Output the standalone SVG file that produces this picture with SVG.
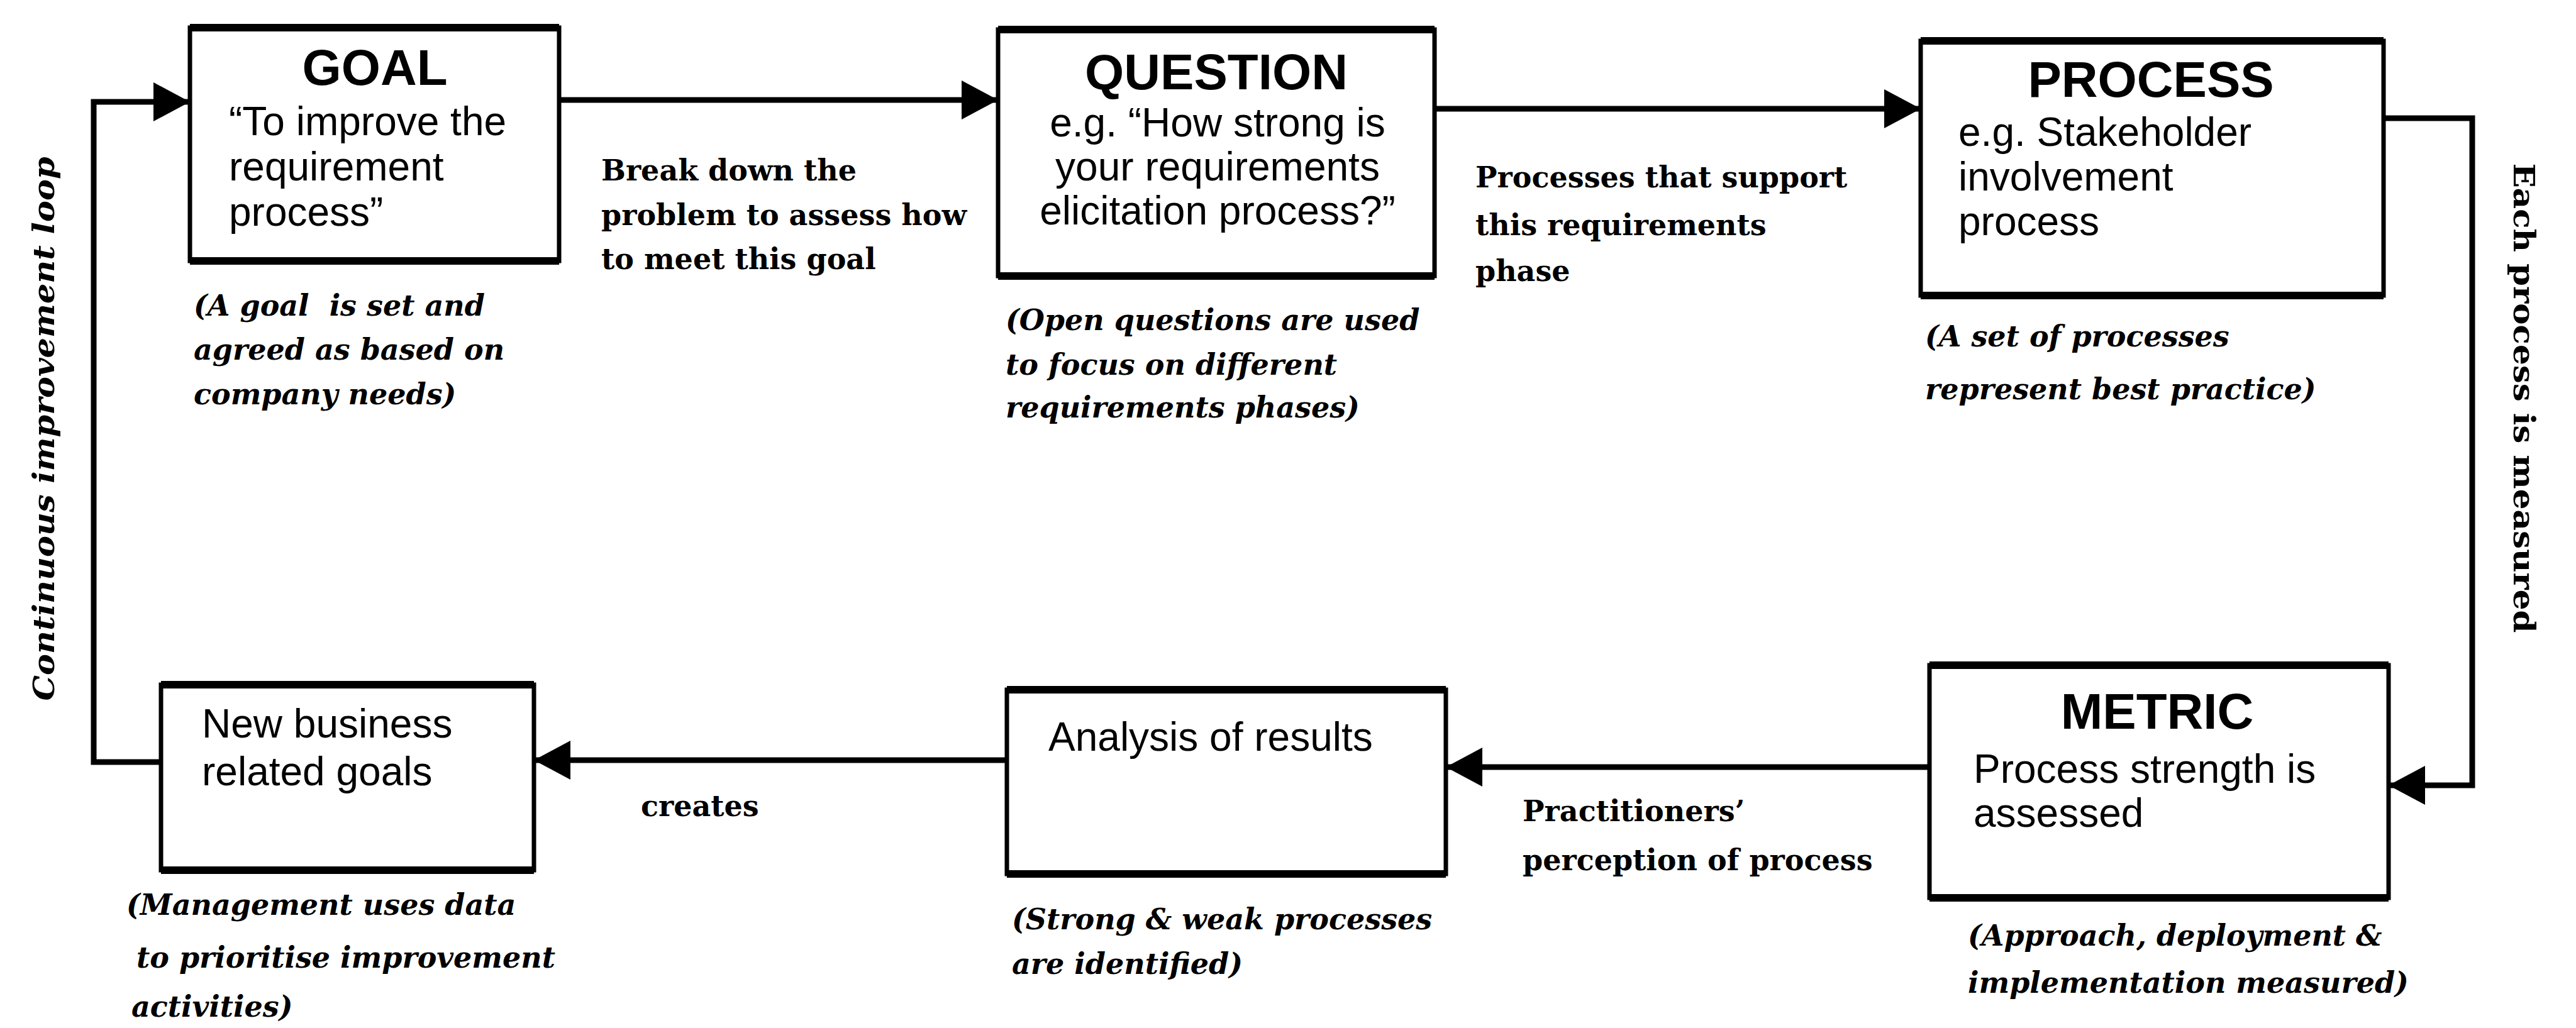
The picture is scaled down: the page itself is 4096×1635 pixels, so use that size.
<svg xmlns="http://www.w3.org/2000/svg" width="4096" height="1635" viewBox="0 0 4096 1635">
  <style>
    .box { fill: #fff; stroke: #000; stroke-width: 7; }
    .rim { fill: none; stroke: #000; stroke-width: 12; }
    .wire { fill: none; stroke: #000; stroke-width: 9; }
    .head { font-family: "Liberation Sans", Arial, sans-serif; font-weight: bold; font-size: 80px; text-anchor: middle; }
    .body { font-family: "Liberation Sans", Arial, sans-serif; font-size: 64px; }
    .mid { text-anchor: middle; }
    .note { font-family: "DejaVu Serif", "Liberation Serif", serif; font-weight: bold; font-size: 46px; }
    .cap { font-family: "DejaVu Serif", "Liberation Serif", serif; font-weight: bold; font-style: italic; font-size: 46px; }
  </style>
  <defs>
    <marker id="arrow" markerUnits="userSpaceOnUse" viewBox="0 0 58 62" markerWidth="58" markerHeight="62" refX="58" refY="31" orient="auto">
      <path d="M0,0 L58,31 L0,62 z" fill="#000"/>
    </marker>
  </defs>
  <rect width="4096" height="1635" fill="#fff"/>

  <!-- connectors -->
  <g id="connectors">
    <path class="wire" d="M889 159 H1587" marker-end="url(#arrow)"/>
    <path class="wire" d="M2281 173 H3054" marker-end="url(#arrow)"/>
    <path class="wire" d="M3790 188 H3931 V1249 H3798" marker-end="url(#arrow)"/>
    <path class="wire" d="M3068 1220 H2299" marker-end="url(#arrow)"/>
    <path class="wire" d="M1601 1209 H849" marker-end="url(#arrow)"/>
    <path class="wire" d="M256 1212 H149 V162 H302" marker-end="url(#arrow)"/>
    <text class="note" x="956" y="287">Break down the</text>
    <text class="note" x="956" y="358">problem to assess how</text>
    <text class="note" x="956" y="428">to meet this goal</text>
    <text class="note" x="2346" y="298">Processes that support</text>
    <text class="note" x="2346" y="374">this requirements</text>
    <text class="note" x="2346" y="447">phase</text>
    <text class="note" x="3997" y="633" transform="rotate(90 3997 633)" text-anchor="middle" font-size="52" textLength="747" lengthAdjust="spacingAndGlyphs">Each process is measured</text>
    <text class="note" x="2421" y="1306">Practitioners’</text>
    <text class="note" x="2421" y="1384">perception of process</text>
    <text class="note" x="1019" y="1298">creates</text>
    <text class="cap" x="86" y="682" transform="rotate(-90 86 682)" text-anchor="middle" font-size="52" textLength="865" lengthAdjust="spacingAndGlyphs">Continuous improvement loop</text>
  </g>

  <!-- GOAL -->
  <g id="goal">
    <rect class="box" x="302" y="44" width="587" height="371"/>
    <path class="rim" d="M302 44 H889 M302 415 H889"/>
    <text class="head" x="596" y="135">GOAL</text>
    <text class="body" x="364" y="215">“To improve the</text>
    <text class="body" x="364" y="287">requirement</text>
    <text class="body" x="364" y="359">process”</text>
    <text class="cap" x="308" y="502" xml:space="preserve">(A goal  is set and</text>
    <text class="cap" x="308" y="572">agreed as based on</text>
    <text class="cap" x="308" y="643">company needs)</text>
  </g>

  <!-- QUESTION -->
  <g id="question">
    <rect class="box" x="1587" y="47" width="694" height="392"/>
    <path class="rim" d="M1587 47 H2281 M1587 439 H2281"/>
    <text class="head" x="1934" y="142">QUESTION</text>
    <text class="body mid" x="1936" y="217">e.g. “How strong is</text>
    <text class="body mid" x="1936" y="287">your requirements</text>
    <text class="body mid" x="1936" y="357">elicitation process?”</text>
    <text class="cap" x="1599" y="525">(Open questions are used</text>
    <text class="cap" x="1599" y="596">to focus on different</text>
    <text class="cap" x="1599" y="664">requirements phases)</text>
  </g>

  <!-- PROCESS -->
  <g id="process">
    <rect class="box" x="3054" y="65" width="736" height="405"/>
    <path class="rim" d="M3054 65 H3790 M3054 470 H3790"/>
    <text class="head" x="3420" y="154">PROCESS</text>
    <text class="body" x="3114" y="232">e.g. Stakeholder</text>
    <text class="body" x="3114" y="303">involvement</text>
    <text class="body" x="3114" y="374">process</text>
    <text class="cap" x="3061" y="551">(A set of processes</text>
    <text class="cap" x="3061" y="635">represent best practice)</text>
  </g>

  <!-- METRIC -->
  <g id="metric">
    <rect class="box" x="3068" y="1058" width="730" height="370"/>
    <path class="rim" d="M3068 1058 H3798 M3068 1428 H3798"/>
    <text class="head" x="3430" y="1159">METRIC</text>
    <text class="body" x="3138" y="1245">Process strength is</text>
    <text class="body" x="3138" y="1315">assessed</text>
    <text class="cap" x="3129" y="1504">(Approach, deployment &amp;</text>
    <text class="cap" x="3129" y="1579">implementation measured)</text>
  </g>

  <!-- ANALYSIS -->
  <g id="analysis">
    <rect class="box" x="1601" y="1097" width="698" height="293"/>
    <path class="rim" d="M1601 1097 H2299 M1601 1390 H2299"/>
    <text class="body" x="1667" y="1194">Analysis of results</text>
    <text class="cap" x="1609" y="1478">(Strong &amp; weak processes</text>
    <text class="cap" x="1609" y="1549">are identified)</text>
  </g>

  <!-- NEW BUSINESS GOALS -->
  <g id="new-goals">
    <rect class="box" x="256" y="1089" width="593" height="295"/>
    <path class="rim" d="M256 1089 H849 M256 1384 H849"/>
    <text class="body" x="321" y="1173">New business</text>
    <text class="body" x="321" y="1249">related goals</text>
    <text class="cap" x="201" y="1455">(Management uses data</text>
    <text class="cap" x="217" y="1539">to prioritise improvement</text>
    <text class="cap" x="209" y="1617">activities)</text>
  </g>
</svg>
